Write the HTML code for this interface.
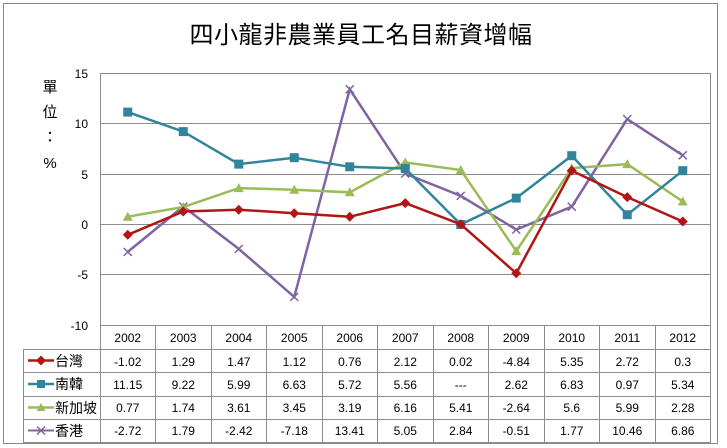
<!DOCTYPE html>
<html><head><meta charset="utf-8"><style>
html,body{margin:0;padding:0;background:#fff;}
svg{display:block;}
text{font-family:"Liberation Sans","Noto Sans CJK TC",sans-serif;fill:#000;}
</style></head><body>
<svg width="727" height="448" viewBox="0 0 727 448" xmlns="http://www.w3.org/2000/svg">
<rect x="3.5" y="3.5" width="714" height="440" fill="#fff" stroke="#888" stroke-width="1"/>
<text x="361" y="43" font-size="24" text-anchor="middle" letter-spacing="0.5">四小龍非農業員工名目薪資增幅</text>
<g font-size="15" text-anchor="middle">
<text x="50" y="92">單</text><text x="50" y="117">位</text><text x="50" y="142">：</text><text x="50" y="168">%</text>
</g>
<g stroke="#8c8c8c" stroke-width="1">
<line x1="100" y1="73.5" x2="710" y2="73.5"/>
<line x1="100" y1="123.5" x2="710" y2="123.5"/>
<line x1="100" y1="174.5" x2="710" y2="174.5"/>
<line x1="100" y1="224.5" x2="710" y2="224.5"/>
<line x1="100" y1="274.5" x2="710" y2="274.5"/>
<line x1="100" y1="325.5" x2="710" y2="325.5"/>
<line x1="100.5" y1="73" x2="100.5" y2="443"/>
<line x1="710.5" y1="73" x2="710.5" y2="443"/>
<line x1="23" y1="349.5" x2="710" y2="349.5"/>
<line x1="23" y1="372.5" x2="710" y2="372.5"/>
<line x1="23" y1="396.5" x2="710" y2="396.5"/>
<line x1="23" y1="419.5" x2="710" y2="419.5"/>
<line x1="23" y1="442.5" x2="710" y2="442.5"/>
<line x1="23.5" y1="349" x2="23.5" y2="443"/>
<line x1="155.5" y1="325" x2="155.5" y2="443"/>
<line x1="211.5" y1="325" x2="211.5" y2="443"/>
<line x1="266.5" y1="325" x2="266.5" y2="443"/>
<line x1="322.5" y1="325" x2="322.5" y2="443"/>
<line x1="377.5" y1="325" x2="377.5" y2="443"/>
<line x1="433.5" y1="325" x2="433.5" y2="443"/>
<line x1="488.5" y1="325" x2="488.5" y2="443"/>
<line x1="544.5" y1="325" x2="544.5" y2="443"/>
<line x1="599.5" y1="325" x2="599.5" y2="443"/>
<line x1="655.5" y1="325" x2="655.5" y2="443"/>
</g>
<g font-size="12" text-anchor="end">
<text x="88" y="78">15</text><text x="88" y="128">10</text><text x="88" y="179">5</text><text x="88" y="229">0</text><text x="88" y="279">-5</text><text x="88" y="330">-10</text>
</g>
<!-- series -->
<polyline fill="none" stroke="#8064A2" stroke-width="2.5" points="127.75,251.9 183.25,206.5 238.75,248.9 294.25,296.9 349.75,89.3 405.25,173.6 460.75,195.9 516.25,229.6 571.75,206.7 627.25,119.1 682.75,155.3"/>
<g stroke="#8064A2" stroke-width="1.5">
<path d="M123.75,247.9l8,8m0,-8l-8,8M179.25,202.5l8,8m0,-8l-8,8M234.75,244.9l8,8m0,-8l-8,8M290.25,292.9l8,8m0,-8l-8,8M345.75,85.3l8,8m0,-8l-8,8M401.25,169.6l8,8m0,-8l-8,8M456.75,191.9l8,8m0,-8l-8,8M512.25,225.6l8,8m0,-8l-8,8M567.75,202.7l8,8m0,-8l-8,8M623.25,115.1l8,8m0,-8l-8,8M678.75,151.3l8,8m0,-8l-8,8"/>
</g>
<polyline fill="none" stroke="#9BBB59" stroke-width="2.5" points="127.75,216.7 183.25,207 238.75,188.1 294.25,189.7 349.75,192.3 405.25,162.4 460.75,170 516.25,251.1 571.75,168.1 627.25,164.1 682.75,201.5"/>
<g fill="#9BBB59">
<path d="M127.75,211.7l5,9h-10zM183.25,202l5,9h-10zM238.75,183.1l5,9h-10zM294.25,184.7l5,9h-10zM349.75,187.3l5,9h-10zM405.25,157.4l5,9h-10zM460.75,165l5,9h-10zM516.25,246.1l5,9h-10zM571.75,163.1l5,9h-10zM627.25,159.1l5,9h-10zM682.75,196.5l5,9h-10z"/>
</g>
<polyline fill="none" stroke="#31849B" stroke-width="2.5" points="127.75,112.1 183.25,131.6 238.75,164.1 294.25,157.7 349.75,166.8 405.25,168.5 460.75,224.5 516.25,198.1 571.75,155.7 627.25,214.7 682.75,170.7"/>
<g fill="#31849B">
<rect x="123.25" y="107.6" width="9" height="9"/><rect x="178.75" y="127.1" width="9" height="9"/><rect x="234.25" y="159.6" width="9" height="9"/><rect x="289.75" y="153.2" width="9" height="9"/><rect x="345.25" y="162.3" width="9" height="9"/><rect x="400.75" y="164" width="9" height="9"/><rect x="456.25" y="220" width="9" height="9"/><rect x="511.75" y="193.6" width="9" height="9"/><rect x="567.25" y="151.2" width="9" height="9"/><rect x="622.75" y="210.2" width="9" height="9"/><rect x="678.25" y="166.2" width="9" height="9"/>
</g>
<polyline fill="none" stroke="#B11515" stroke-width="2.5" points="127.75,234.8 183.25,211.5 238.75,209.7 294.25,213.2 349.75,216.8 405.25,203.1 460.75,224.3 516.25,273.3 571.75,170.6 627.25,197.1 682.75,221.5"/>
<g fill="#B11515">
<path d="M127.75,229.8l5,5l-5,5l-5,-5zM183.25,206.5l5,5l-5,5l-5,-5zM238.75,204.7l5,5l-5,5l-5,-5zM294.25,208.2l5,5l-5,5l-5,-5zM349.75,211.8l5,5l-5,5l-5,-5zM405.25,198.1l5,5l-5,5l-5,-5zM460.75,219.3l5,5l-5,5l-5,-5zM516.25,268.3l5,5l-5,5l-5,-5zM571.75,165.6l5,5l-5,5l-5,-5zM627.25,192.1l5,5l-5,5l-5,-5zM682.75,216.5l5,5l-5,5l-5,-5z"/>
</g>
<!-- legend keys -->
<line x1="28" y1="360.5" x2="54" y2="360.5" stroke="#B11515" stroke-width="2.5"/><path d="M41,355.5l5,5l-5,5l-5,-5z" fill="#B11515"/>
<line x1="28" y1="384" x2="54" y2="384" stroke="#31849B" stroke-width="2.5"/><rect x="37" y="380" width="8" height="8" fill="#31849B"/>
<line x1="28" y1="407.5" x2="54" y2="407.5" stroke="#9BBB59" stroke-width="2.5"/><path d="M41,403l4.5,8h-9z" fill="#9BBB59"/>
<line x1="28" y1="430.5" x2="54" y2="430.5" stroke="#8064A2" stroke-width="2"/><path d="M37,426.5l8,8m0,-8l-8,8" stroke="#8064A2" stroke-width="1.5"/>
<g font-size="14">
<text x="55" y="366">台灣</text><text x="55" y="389">南韓</text><text x="55" y="413">新加坡</text><text x="55" y="436">香港</text>
</g>
<g font-size="12" text-anchor="middle">
<text x="127.75" y="342">2002</text><text x="183.25" y="342">2003</text><text x="238.75" y="342">2004</text><text x="294.25" y="342">2005</text><text x="349.75" y="342">2006</text><text x="405.25" y="342">2007</text><text x="460.75" y="342">2008</text><text x="516.25" y="342">2009</text><text x="571.75" y="342">2010</text><text x="627.25" y="342">2011</text><text x="682.75" y="342">2012</text>
<text x="127.75" y="366">-1.02</text><text x="183.25" y="366">1.29</text><text x="238.75" y="366">1.47</text><text x="294.25" y="366">1.12</text><text x="349.75" y="366">0.76</text><text x="405.25" y="366">2.12</text><text x="460.75" y="366">0.02</text><text x="516.25" y="366">-4.84</text><text x="571.75" y="366">5.35</text><text x="627.25" y="366">2.72</text><text x="682.75" y="366">0.3</text>
<text x="127.75" y="389">11.15</text><text x="183.25" y="389">9.22</text><text x="238.75" y="389">5.99</text><text x="294.25" y="389">6.63</text><text x="349.75" y="389">5.72</text><text x="405.25" y="389">5.56</text><text x="460.75" y="389">---</text><text x="516.25" y="389">2.62</text><text x="571.75" y="389">6.83</text><text x="627.25" y="389">0.97</text><text x="682.75" y="389">5.34</text>
<text x="127.75" y="412">0.77</text><text x="183.25" y="412">1.74</text><text x="238.75" y="412">3.61</text><text x="294.25" y="412">3.45</text><text x="349.75" y="412">3.19</text><text x="405.25" y="412">6.16</text><text x="460.75" y="412">5.41</text><text x="516.25" y="412">-2.64</text><text x="571.75" y="412">5.6</text><text x="627.25" y="412">5.99</text><text x="682.75" y="412">2.28</text>
<text x="127.75" y="435">-2.72</text><text x="183.25" y="435">1.79</text><text x="238.75" y="435">-2.42</text><text x="294.25" y="435">-7.18</text><text x="349.75" y="435">13.41</text><text x="405.25" y="435">5.05</text><text x="460.75" y="435">2.84</text><text x="516.25" y="435">-0.51</text><text x="571.75" y="435">1.77</text><text x="627.25" y="435">10.46</text><text x="682.75" y="435">6.86</text>
</g>
</svg>
</body></html>
